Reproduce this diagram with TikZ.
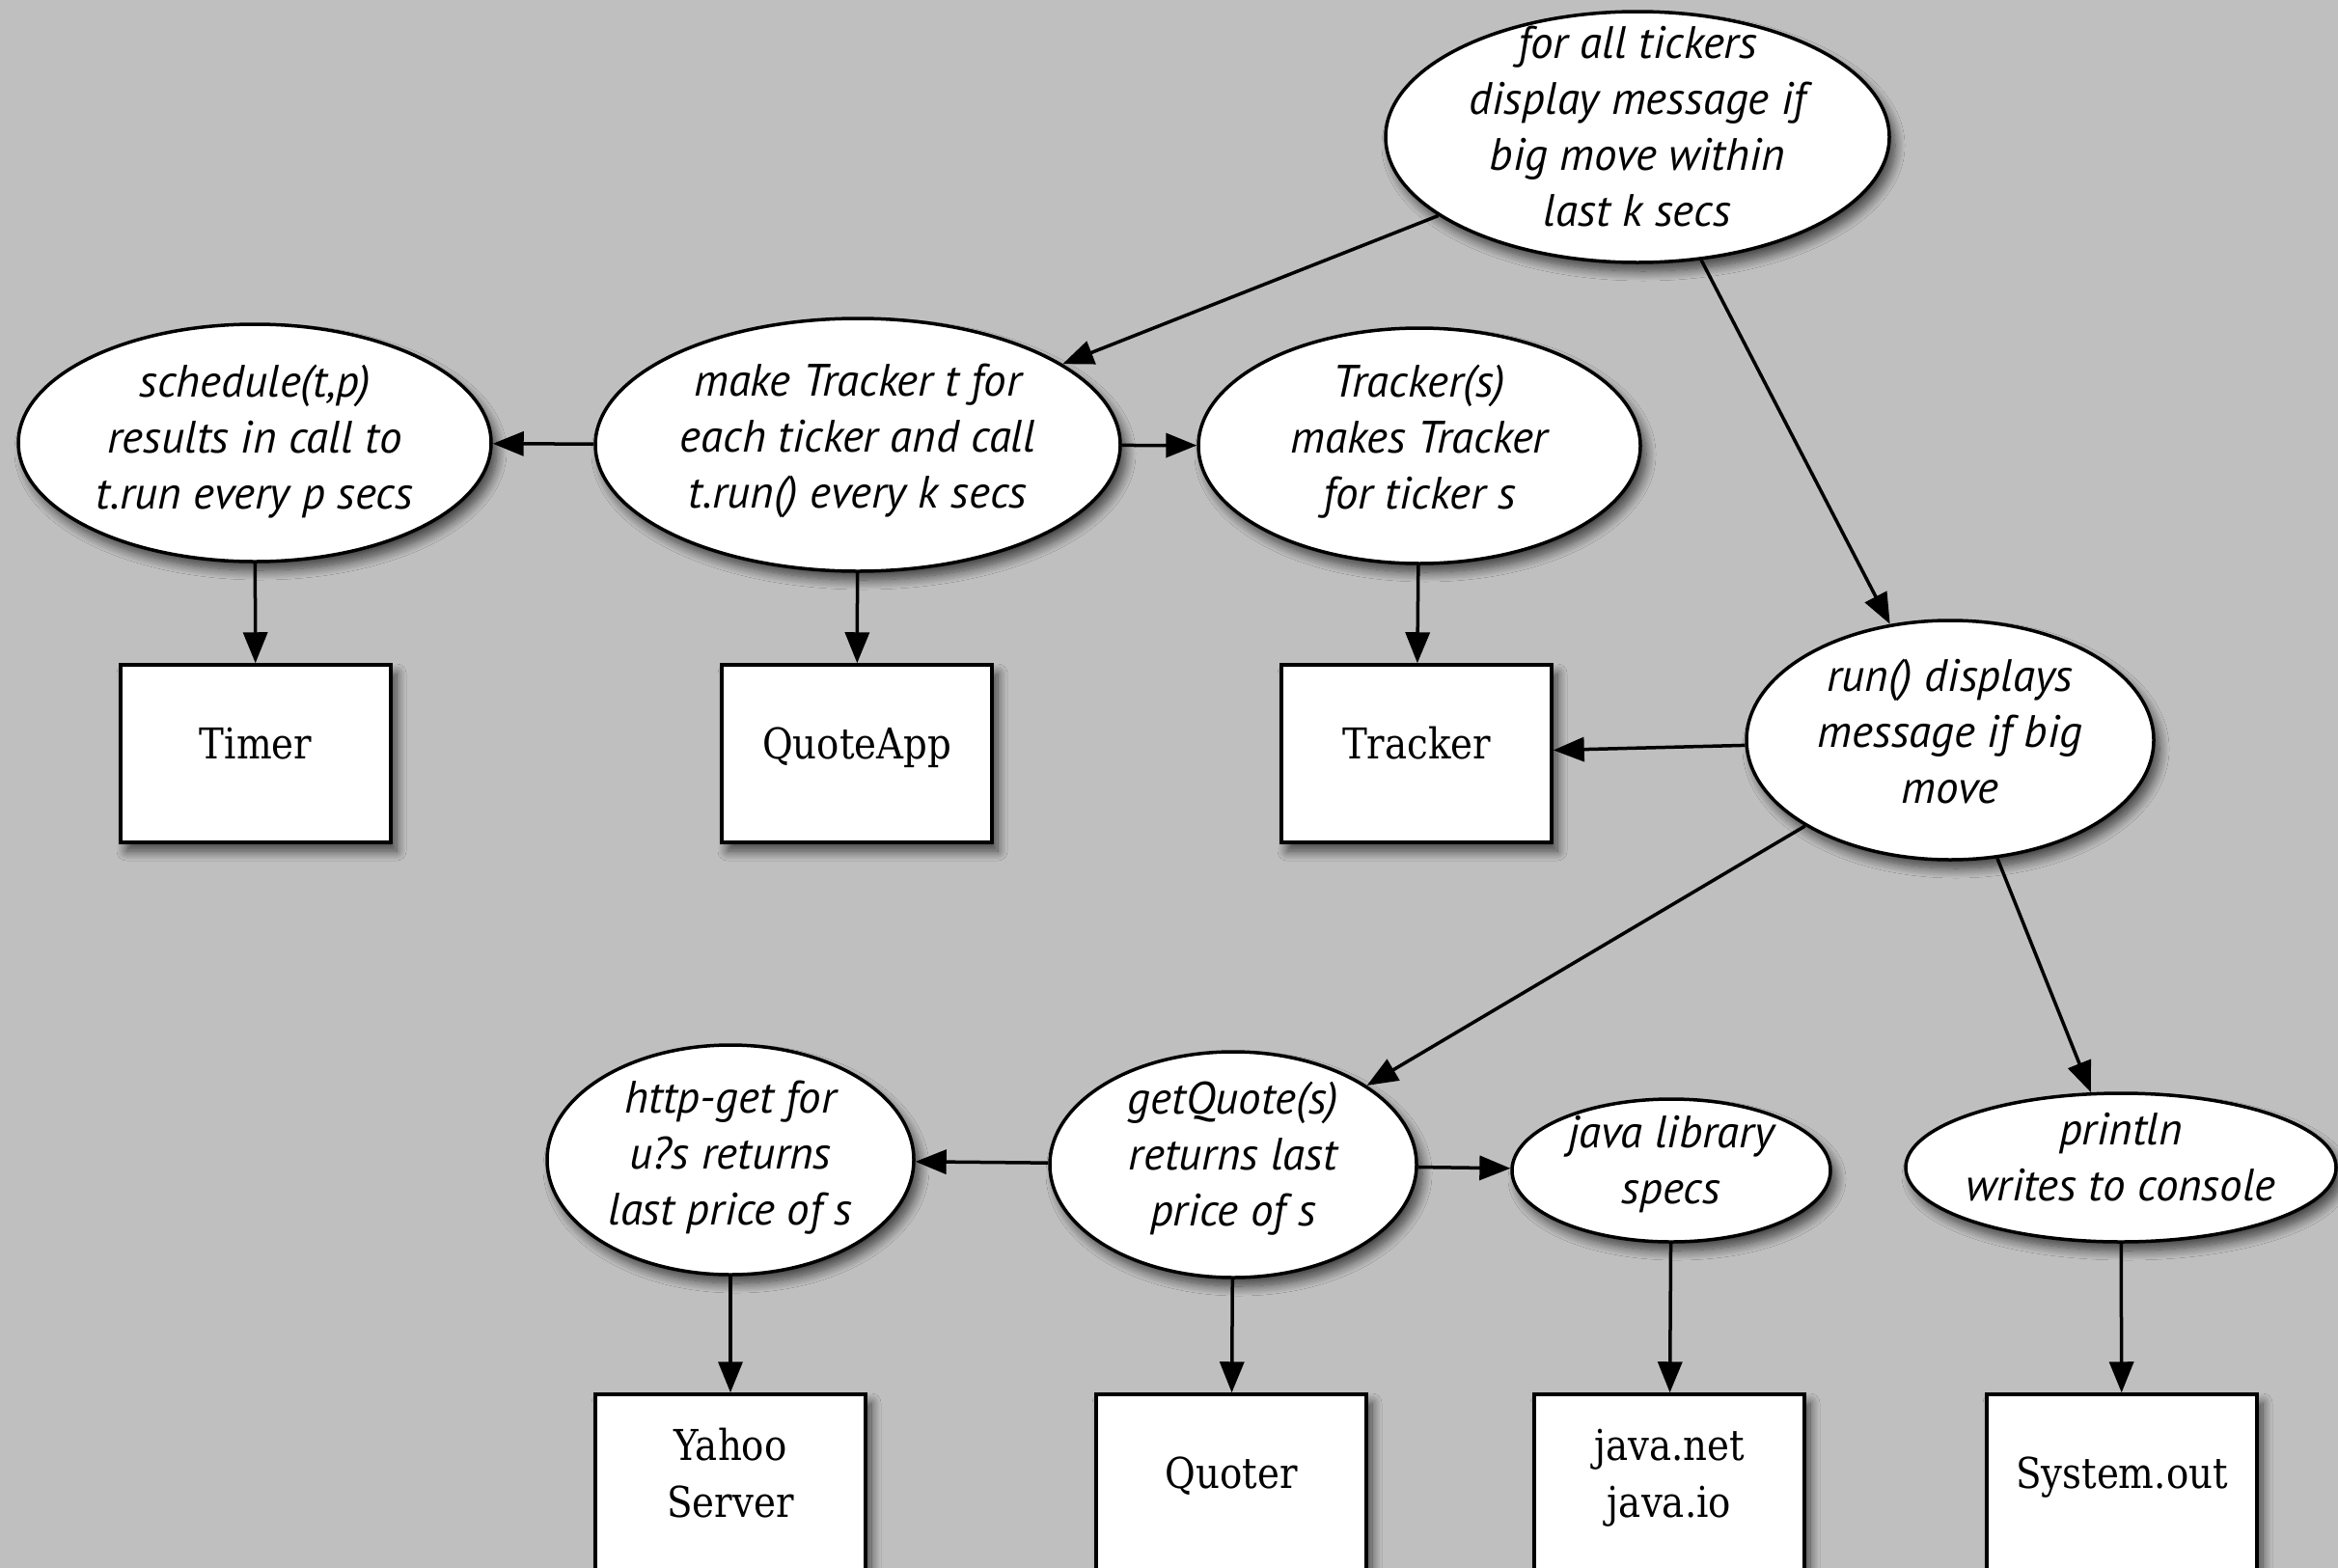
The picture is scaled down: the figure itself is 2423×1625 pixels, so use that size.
\documentclass[tikz,border=0pt]{standalone}
\usepackage{fontspec}
\newfontfamily\ellfont{PT Sans}
\newfontfamily\boxfont{DejaVu Serif}[FakeStretch=0.88]
\usetikzlibrary{shapes.geometric,arrows.meta,shadows.blur}
\definecolor{canvas}{RGB}{191,191,191}
% centred lines that take no room, so each shape keeps the size it is given
\newcommand{\etext}[2][0pt]{\makebox[0pt]{\smash{\raisebox{#1}{%
  \begin{tabular}{@{}c@{}}#2\end{tabular}}}}}
\begin{document}
\begin{tikzpicture}[x=1pt,y=-1pt,
  soft/.style={blur shadow={shadow xshift=6pt,shadow yshift=-9pt,
      shadow blur radius=10pt,shadow blur steps=14,shadow opacity=65}},
  ell/.style 2 args={ellipse,draw,line width=3.5pt,fill=white,inner sep=0pt,
      minimum width=#1,minimum height=#2,soft,
      font=\ellfont\itshape\fontsize{47}{58}\selectfont},
  box/.style={rectangle,draw,line width=3.5pt,fill=white,inner sep=0pt,
      minimum width=280pt,minimum height=184pt,soft,
      font=\boxfont\fontsize{44}{59}\selectfont},
  arr/.style={-{Triangle[length=32pt,width=25pt]},line width=3.5pt}]
\fill[canvas] (0,0) rectangle (2423,1625);
\useasboundingbox (0,0) rectangle (2423,1625);

% activities
\node[ell={522pt}{260pt}] (all) at (1697,142)
  {\etext{for all tickers\\display message if\\big move within\\last k secs}};
\node[ell={490pt}{246pt}] (sched) at (264,459)
  {\etext[-5pt]{schedule(t,p)\\results in call to\\t.run every p secs}};
\node[ell={544pt}{262pt}] (make) at (889,461)
  {\etext[-2pt]{make Tracker t for\\each ticker and call\\t.run() every k secs}};
\node[ell={458pt}{244pt}] (trk) at (1471,462)
  {\etext[-2pt]{Tracker(s)\\makes Tracker\\for ticker s}};
\node[ell={422pt}{248pt}] (run) at (2021,767)
  {\etext[-2pt]{run() displays\\message if big\\move}};
\node[ell={380pt}{238pt}] (http) at (757,1202)
  {\etext[-4pt]{http-get for\\u?s returns\\last price of s}};
\node[ell={380pt}{234pt}] (getq) at (1278,1207)
  {\etext{getQuote(s)\\returns last\\price of s}};
\node[ell={330pt}{148pt}] (jlib) at (1732,1213)
  {\etext{java library\\specs}};
\node[ell={446pt}{154pt}] (prn) at (2198,1210)
  {\etext{println\\writes to console}};

% classes
\node[box] (timer) at (265,781) {\etext{Timer}};
\node[box] (qapp) at (888,781) {\etext{QuoteApp}};
\node[box] (tbox) at (1468,781) {\etext{Tracker}};
\node[box] (yahoo) at (757,1537) {\etext{Yahoo\\Server}};
\node[box] (quoter) at (1276,1537) {\etext{Quoter}};
\node[box] (jnet) at (1730,1537) {\etext{java.net\\java.io}};
\node[box] (sysout) at (2199,1537) {\etext{System.out}};

% dependencies
\draw[arr] (all) -- (make);
\draw[arr] (all) -- (run);
\draw[arr] (make) -- (sched);
\draw[arr] (make) -- (trk);
\draw[arr] (sched) -- (timer);
\draw[arr] (make) -- (qapp);
\draw[arr] (trk) -- (tbox);
\draw[arr] (run) -- (tbox);
\draw[arr] (run) -- (getq);
\draw[arr] (run) -- (prn);
\draw[arr] (getq) -- (http);
\draw[arr] (getq) -- (jlib);
\draw[arr] (http) -- (yahoo);
\draw[arr] (getq) -- (quoter);
\draw[arr] (jlib) -- (jnet);
\draw[arr] (prn) -- (sysout);
\end{tikzpicture}
\end{document}
